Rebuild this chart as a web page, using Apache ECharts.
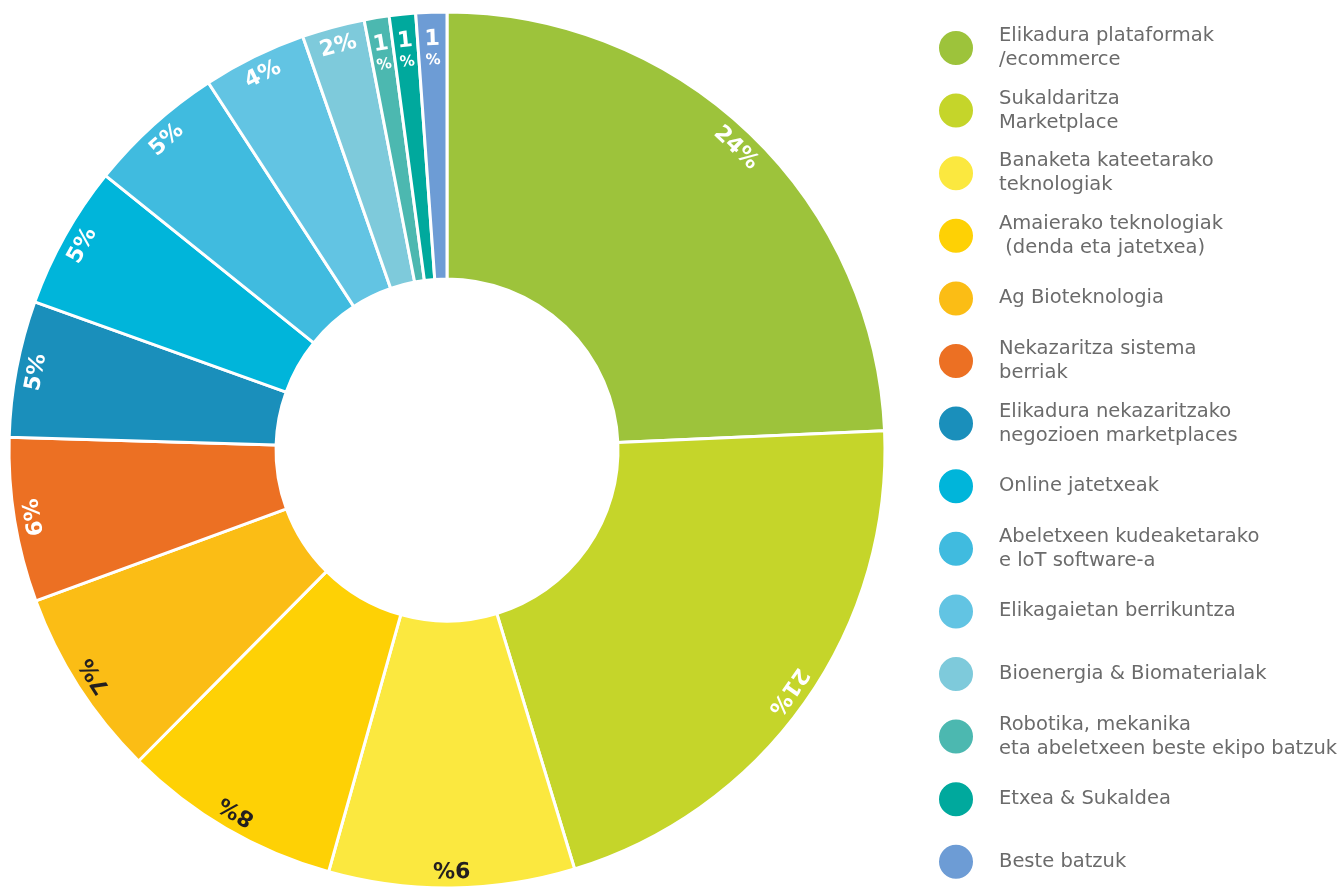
<!DOCTYPE html>
<html>
<head>
<meta charset="utf-8">
<script src="https://cdn.jsdelivr.net/npm/echarts@6/dist/echarts.min.js"></script>
<style>
    html, body { margin: 0; padding: 0; background: #fff; }
    #chart { width: 1343px; height: 887px; }
</style>
</head>
<body>
<div id="chart"></div>
<script>
// categories, clockwise from 12 o'clock
var categories = [
    'Elikadura plataformak\n/ecommerce',
    'Sukaldaritza\nMarketplace',
    'Banaketa kateetarako\nteknologiak',
    'Amaierako teknologiak\n (denda eta jatetxea)',
    'Ag Bioteknologia',
    'Nekazaritza sistema\nberriak',
    'Elikadura nekazaritzako\nnegozioen marketplaces',
    'Online jatetxeak',
    'Abeletxeen kudeaketarako\ne loT software-a',
    'Elikagaietan berrikuntza',
    'Bioenergia & Biomaterialak',
    'Robotika, mekanika\neta abeletxeen beste ekipo batzuk',
    'Etxea & Sukaldea',
    'Beste batzuk'
];
// slice sizes (%)
var shares = [24.3, 21.0, 9.06, 8.08, 6.97, 6.06, 5.03, 5.28, 5.06, 3.83, 2.31, 0.92, 0.97, 1.14];
// printed labels
var shareLabels = ['24%', '21%', '9%', '8%', '7%', '6%', '5%', '5%', '5%', '4%', '2%', '1%', '1%', '1%'];
var colors = ['#9dc33b', '#c5d52a', '#fbe83f', '#fed105', '#fbbd15', '#ec7023', '#1a8fbb',
    '#00b5da', '#40bbdf', '#62c4e3', '#7ecadb', '#4cb8b0', '#00a99d', '#6d9cd5'];
var darkLabelIdx = [2, 3, 4];

var total = shares.reduce(function (a, b) { return a + b; }, 0);

// mid angle of a slice, degrees ccw from +x, ring starting at 90 going clockwise
function midAngle(i) {
    var before = 0;
    for (var j = 0; j < i; j++) {
        before += shares[j];
    }
    return 90 - (before + shares[i] / 2) / total * 360;
}

var ringData = categories.map(function (name, i) {
    return { name: name, value: shares[i], itemStyle: { color: colors[i] } };
});

// labels sit with their top toward the outer edge
var labelData = categories.map(function (name, i) {
    var small = shares[i] < 1.5;
    var txt = shareLabels[i];
    return {
        name: name,
        value: shares[i],
        label: {
            rotate: midAngle(i) - 90,
            color: darkLabelIdx.indexOf(i) >= 0 ? '#231f20' : '#ffffff',
            padding: small ? [32, 0, 0, 0] : 0,
            formatter: small ? '{n|' + txt.replace('%', '') + '}\n{p|%}' : txt
        }
    };
});

var chart = echarts.init(document.getElementById('chart'));
chart.setOption({
    backgroundColor: '#ffffff',
    animation: false,
    legend: {
        orient: 'vertical',
        left: 937,
        top: 25,
        padding: 0,
        icon: 'circle',
        itemWidth: 36,
        itemHeight: 36,
        itemGap: 16.6,
        selectedMode: false,
        data: categories,
        textStyle: {
            fontFamily: 'DejaVu Sans',
            fontSize: 19.5,
            lineHeight: 24,
            height: 46,
            backgroundColor: 'rgba(255,255,255,0)',
            color: '#6b6b6b',
            padding: [0, 0, 0, 20]
        }
    },
    series: [
        {
            type: 'pie',
            center: [447, 450],
            radius: [171, 438],
            startAngle: 90,
            clockwise: true,
            silent: true,
            label: { show: false },
            labelLine: { show: false },
            itemStyle: { borderColor: '#ffffff', borderWidth: 3 },
            data: ringData
        },
        {
            type: 'pie',
            center: [447, 450],
            radius: [392, 438],
            startAngle: 90,
            clockwise: true,
            silent: true,
            itemStyle: { color: 'rgba(0,0,0,0)', borderWidth: 0 },
            labelLine: { show: false },
            label: {
                show: true,
                position: 'inside',
                fontFamily: 'DejaVu Sans',
                fontWeight: 'bold',
                fontSize: 22,
                rich: {
                    n: { fontFamily: 'DejaVu Sans', fontWeight: 'bold', fontSize: 22, lineHeight: 24, color: '#ffffff' },
                    p: { fontFamily: 'DejaVu Sans', fontWeight: 'bold', fontSize: 15, lineHeight: 18, color: '#ffffff' }
                }
            },
            data: labelData
        }
    ]
});
</script>
</body>
</html>
